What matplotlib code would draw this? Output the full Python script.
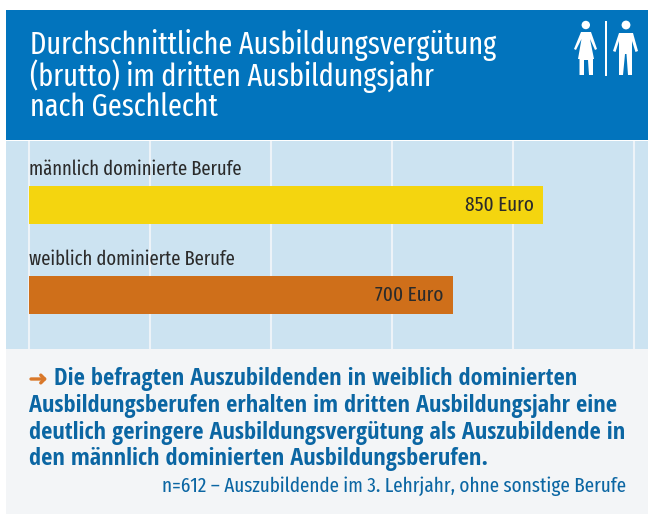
import matplotlib
matplotlib.use("Agg")
import matplotlib.pyplot as plt
from matplotlib import font_manager
from matplotlib.patches import Rectangle, Circle, Polygon

# chart data
categories = ["männlich dominierte Berufe", "weiblich dominierte Berufe"]
values = [850, 700]
value_labels = ["850 Euro", "700 Euro"]
bar_colors = ["#f4d50f", "#cf6f1a"]
grid_ticks = [0, 200, 400, 600, 800, 1000]

title_lines = ["Durchschnittliche Ausbildungsvergütung",
               "(brutto) im dritten Ausbildungsjahr",
               "nach Geschlecht"]
note_lines = ["Die befragten Auszubildenden in weiblich dominierten",
              "Ausbildungsberufen erhalten im dritten Ausbildungsjahr eine",
              "deutlich geringere Ausbildungsvergütung als Auszubildende in",
              "den männlich dominierten Ausbildungsberufen."]
source = "n=612 – Auszubildende im 3. Lehrjahr, ohne sonstige Berufe"

# condensed faces if there are any, otherwise Liberation Sans set smaller
names = {f.name for f in font_manager.fontManager.ttflist}
has_reg = "Fira Sans Extra Condensed" in names
has_bold = "Open Sans Condensed" in names
reg_font = ["Fira Sans Extra Condensed"] * has_reg + ["Liberation Sans", "DejaVu Sans"]
bold_font = ["Open Sans Condensed"] * has_bold + ["Liberation Sans", "DejaVu Sans"]
fs_r = 1.0 if has_reg else 0.72
fs_b = 1.0 if has_bold else 0.72
plt.rcParams["font.family"] = reg_font

W, H = 648, 514
blue = "#0274bd"
dark_blue = "#0b66a3"
text_col = "#2b2b2b"

fig = plt.figure(figsize=(W / 100, H / 100), dpi=100, facecolor="white")

# overlay in pixel coordinates for header, footer and icons
deco = fig.add_axes([0, 0, 1, 1], zorder=0)
deco.set_xlim(0, W)
deco.set_ylim(H, 0)
deco.axis("off")
deco.add_patch(Rectangle((6, 10), W - 6, 130, color=blue, lw=0))
deco.add_patch(Rectangle((6, 349), W - 6, 165, color="#f3f5f7", lw=0))

for y, line in zip([45, 76, 107], title_lines):
    deco.text(29.5, y, line, color="white", fontsize=22 * fs_r, fontweight="normal", va="center", ha="left")

# woman
deco.add_patch(Circle((585.8, 25), 4.2, color="white", lw=0))
deco.add_patch(Polygon([(581, 32), (591, 32), (597, 49), (595, 50), (590, 39), (594, 59),
                        (593, 59), (593, 75), (589, 75), (588, 60), (584, 60), (584, 75),
                        (579.5, 75), (579.5, 59), (578, 59), (581.5, 39), (576, 50), (574, 49)],
                       color="white", lw=0))
# divider
deco.add_patch(Rectangle((605, 21), 2, 55, color="white", lw=0))
# man
deco.add_patch(Circle((626, 25), 4.4, color="white", lw=0))
deco.add_patch(Polygon([(619, 33), (633, 33), (638, 51), (635.5, 52), (632, 41), (632, 75),
                        (628, 75), (626.5, 54), (625, 54), (623, 75), (619, 75), (619, 41),
                        (615.5, 52), (613, 51)],
                       color="white", lw=0))

# arrow in front of the note
deco.annotate("", xy=(47, 379), xytext=(31, 379),
              arrowprops=dict(arrowstyle="->,head_length=0.28,head_width=0.28", color="#d9782a", lw=2.4,
                              shrinkA=0, shrinkB=0))

for x, y, line in zip([54, 29, 29, 29], [379, 406, 433, 459], note_lines):
    deco.text(x, y, line, color=dark_blue, fontsize=17.6 * fs_b, family=bold_font, fontweight="bold",
              va="center", ha="left")
deco.text(626, 486, source, color=dark_blue, fontsize=15 * fs_r, va="center", ha="right")

# bar chart, axes spans the light blue plot band
ax_left, ax_top, ax_bottom = 6, 141, 349
ax = fig.add_axes([ax_left / W, 1 - ax_bottom / H, (W - ax_left) / W, (ax_bottom - ax_top) / H], zorder=1)
ax.set_facecolor("#cce3f1")
px_per_euro = 605 / 1000
ax.set_xlim((ax_left - 29) / px_per_euro, (W - 29) / px_per_euro)
ax.set_ylim(ax_bottom, ax_top)
ax.set_xticks(grid_ticks)
ax.set_yticks([])
ax.tick_params(length=0, labelbottom=False)
ax.grid(axis="x", color="#edf3f8", lw=1.5)
ax.set_axisbelow(True)
for s in ax.spines.values():
    s.set_visible(False)

bar_y = [205, 295]
ax.barh(bar_y, values, height=38, color=bar_colors, lw=0)
for y, cat, v, lab in zip(bar_y, categories, values, value_labels):
    ax.text(0, y - 36, cat, fontsize=14.5 * fs_r, color=text_col, va="center", ha="left")
    ax.annotate(lab, xy=(v, y), xytext=(-9, 0), textcoords="offset pixels",
                fontsize=15 * fs_r, color=text_col, va="center", ha="right")

fig.savefig("out.png", dpi=100)
